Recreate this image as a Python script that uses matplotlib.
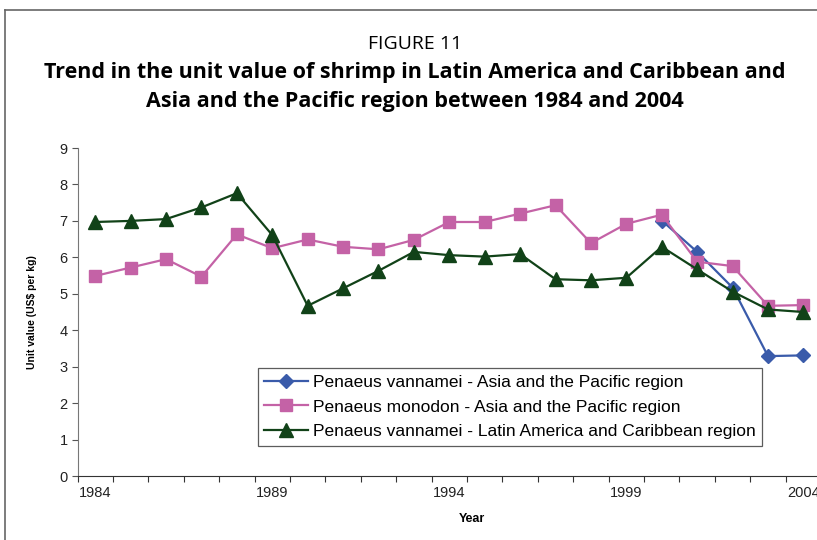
import numpy as np
import matplotlib.pyplot as plt
from matplotlib.lines import Line2D

years = np.arange(1984, 2005)

# Penaeus vannamei - Asia and the Pacific (only 2000-2004)
asia_vannamei_years = [2000, 2001, 2002, 2003, 2004]
asia_vannamei = [7.01, 6.15, 5.17, 3.29, 3.31]

# Penaeus monodon - Asia and the Pacific
asia_monodon = [5.49, 5.72, 5.95, 5.47, 6.63, 6.25, 6.49, 6.29, 6.22, 6.48,
                6.97, 6.97, 7.20, 7.43, 6.39, 6.92, 7.17, 5.88, 5.76, 4.67, 4.69]

# Penaeus vannamei - Latin America and Caribbean
latam_vannamei = [6.97, 7.00, 7.05, 7.37, 7.76, 6.61, 4.67, 5.15, 5.63, 6.15,
                  6.06, 6.02, 6.09, 5.40, 5.37, 5.44, 6.29, 5.67, 5.06, 4.57, 4.50]

labels = ["Penaeus vannamei - Asia and the Pacific region",
          "Penaeus monodon - Asia and the Pacific region",
          "Penaeus vannamei - Latin America and Caribbean region"]

blue = "#3A5BAA"
pink = "#C462A6"
green = "#114218"

plt.rcParams['font.family'] = ['Liberation Sans', 'DejaVu Sans']

fig = plt.figure(figsize=(8.17, 5.40), dpi=100)
ax = fig.add_axes([0.0949, 0.1185, 0.9101, 0.6074])

ax.plot(asia_vannamei_years, asia_vannamei, color=blue, lw=1.6,
        marker='D', ms=7.5, mec=blue, label=labels[0])
ax.plot(years, asia_monodon, color=pink, lw=1.6,
        marker='s', ms=9, mec=pink, label=labels[1])
ax.plot(years, latam_vannamei, color=green, lw=1.6,
        marker='^', ms=10, mec=green, label=labels[2])

ax.set_xlim(1983.5, 2004.5)
ax.set_ylim(0, 9)
ax.set_yticks(range(0, 10))

# ticks between categories, labels every 5 years
ax.set_xticks(np.arange(1983.5, 2005, 1.0))
ax.set_xticklabels([])
ax.set_xticks([1984, 1989, 1994, 1999, 2004], minor=True)
ax.set_xticklabels(['1984', '1989', '1994', '1999', '2004'], minor=True)
ax.tick_params(axis='x', which='major', direction='out', length=4, color='#333333')
ax.tick_params(axis='x', which='minor', length=0, pad=7, labelsize=10.5, labelcolor='#222222')
ax.tick_params(axis='y', direction='out', length=4, color='#555555', labelsize=10.5,
               labelcolor='#222222', pad=3)

for s in ['top', 'right']:
    ax.spines[s].set_visible(False)
ax.spines['left'].set_color('#777777')
ax.spines['bottom'].set_color('#333333')

ax.set_xlabel('Year', fontsize=9, fontweight='bold')
ax.xaxis.set_label_coords(0.531, -0.112)
ax.set_ylabel('Unit value (US$ per kg)', fontsize=7.5, fontweight='bold')
ax.yaxis.set_label_coords(-0.055, 0.5)

leg = ax.legend(loc='upper left', bbox_to_anchor=(0.2425, 0.329), fontsize=12.5,
                frameon=True, fancybox=False, borderpad=0.38, labelspacing=0.55,
                handlelength=2.5, handletextpad=0.27, borderaxespad=0)
leg.get_frame().set_edgecolor('#333333')
leg.get_frame().set_linewidth(0.9)

title_font = ['Open Sans', 'DejaVu Sans']
fig.text(0.508, 0.918, 'FIGURE 11', ha='center', va='center', fontsize=14,
         family=title_font)
fig.text(0.508, 0.866, 'Trend in the unit value of shrimp in Latin America and Caribbean and',
         ha='center', va='center', fontsize=15.5, fontweight='bold', family=title_font)
fig.text(0.508, 0.812, 'Asia and the Pacific region between 1984 and 2004',
         ha='center', va='center', fontsize=15.5, fontweight='bold', family=title_font)

# page frame
fig.add_artist(Line2D([5 / 817, 5 / 817], [0, 1 - 10 / 540], color='#666666', lw=1.2))
fig.add_artist(Line2D([5 / 817, 1], [1 - 10 / 540, 1 - 10 / 540], color='#666666', lw=1.2))

fig.savefig('out.png', dpi=100)
